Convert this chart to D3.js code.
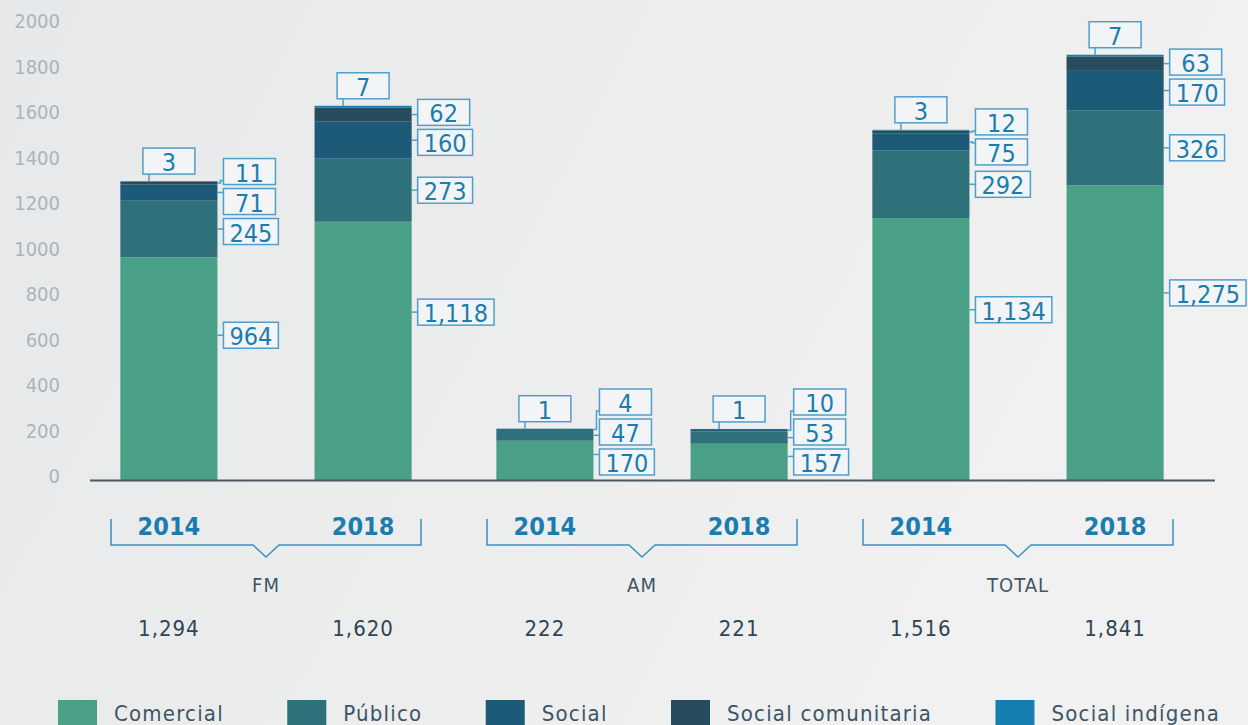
<!DOCTYPE html>
<meta charset="utf-8">
<style>
    body { margin: 0; background: #ececec; }
    svg text { font-family: "DejaVu Sans Condensed", "DejaVu Sans", sans-serif; }
    .tick-label { fill: #a9b5bc; font-size: 20px; }
    .box rect { fill: #f3f4f5; stroke: #4f9fcc; stroke-width: 1.5px; }
    .box text { fill: #1a7db0; font-size: 25px; }
    .conn { stroke: #4f9fcc; stroke-width: 1.5px; fill: none; }
    .year { fill: #1a7db0; font-size: 25px; font-weight: bold; }
    .bracket { stroke: #3a90c0; stroke-width: 1.5px; fill: none; }
    .group-label { fill: #3d5566; font-size: 20px; letter-spacing: 1px; }
    .total { fill: #2c4557; font-size: 22px; letter-spacing: 1px; }
    .legend text { fill: #3d5566; font-size: 22px; letter-spacing: 1.2px; }
</style>

<body>
    <script src="https://d3js.org/d3.v7.min.js"></script>
    <script>
        // data
        var groups = ["FM", "AM", "TOTAL"];
        var years = ["2014", "2018"];
        var series = ["Comercial", "Público", "Social", "Social comunitaria", "Social indígena"];
        var comercial   = [964, 1118, 170, 157, 1134, 1275];
        var publico     = [245, 273, 47, 53, 292, 326];
        var social      = [71, 160, 4, 10, 75, 170];
        var comunitaria = [11, 62, 1, 1, 12, 63];
        var indigena    = [3, 7, 0, 0, 3, 7];
        var yTicks = [0, 200, 400, 600, 800, 1000, 1200, 1400, 1600, 1800, 2000];
        var colors = ["#49a087", "#2e717a", "#1c5a78", "#264c5e", "#157fb0"];

        var values = [comercial, publico, social, comunitaria, indigena];
        var bars = [];
        groups.forEach(function(g, gi) {
            years.forEach(function(yr, yi) {
                var i = gi * 2 + yi;
                var acc = 0;
                var segs = values.map(function(arr, k) {
                    var s = { key: series[k], k: k, v: arr[i], y0: acc, y1: acc + arr[i] };
                    acc += arr[i];
                    return s;
                });
                bars.push({ group: g, year: yr, segs: segs, total: acc });
            });
        });

        var W = 1248, H = 725;
        var svg = d3.select("body").append("svg").attr("width", W).attr("height", H);

        var defs = svg.append("defs");
        var grad = defs.append("linearGradient").attr("id", "bg").attr("x1", 0).attr("y1", 0).attr("x2", 1).attr("y2", 0.3);
        grad.append("stop").attr("offset", 0).attr("stop-color", "#e7e8e9");
        grad.append("stop").attr("offset", 1).attr("stop-color", "#f1f1f1");
        svg.append("rect").attr("width", W).attr("height", H).attr("fill", "url(#bg)");

        var y = d3.scaleLinear().domain([0, 2000]).range([480, 18]);
        var yLab = d3.scaleLinear().domain([0, 2000]).range([476, 21]);

        var x0 = d3.scaleBand().domain(groups).range([78, 1206]);
        var x1 = d3.scaleBand().domain(years).range([0, x0.bandwidth()]).paddingInner(0.5).paddingOuter(0.218);

        // y tick labels
        svg.append("g").selectAll("text").data(yTicks).join("text")
            .attr("class", "tick-label")
            .attr("x", 60).attr("y", d => yLab(d))
            .attr("dy", "0.36em")
            .attr("text-anchor", "end")
            .text(d => d);

        var barG = svg.append("g").selectAll("g.bar").data(bars).join("g")
            .attr("class", "bar")
            .attr("transform", d => "translate(" + (x0(d.group) + x1(d.year)) + ",0)");

        barG.selectAll("rect").data(d => d.segs.filter(s => s.v > 0)).join("rect")
            .attr("x", 0).attr("width", x1.bandwidth())
            .attr("y", s => y(s.y1))
            .attr("height", s => y(s.y0) - y(s.y1))
            .attr("fill", s => colors[s.k]);

        // baseline
        svg.append("line").attr("x1", 90).attr("x2", 1215).attr("y1", 480.5).attr("y2", 480.5)
            .attr("stroke", "#4b5862").attr("stroke-width", 2);

        var fmt = d3.format(",");
        var bw = x1.bandwidth();
        var BOXH = 26, SP = 30;

        function addBox(g, cx, cy, text, anchor) {
            var b = g.append("g").attr("class", "box");
            var r = b.append("rect");
            var t = b.append("text").text(text).attr("dy", "0.36em");
            var tw = t.node().getComputedTextLength();
            var w = Math.max(52, tw + 12);
            var left = anchor === "left" ? cx : cx - w / 2;
            r.attr("x", left).attr("y", cy - BOXH / 2).attr("width", w).attr("height", BOXH);
            t.attr("x", left + w / 2).attr("y", cy + 1).attr("text-anchor", "middle");
            return left;
        }

        barG.each(function(d) {
            var g = d3.select(this);
            var nz = d.segs.filter(s => s.v > 0);
            var top = nz[nz.length - 1];
            var side = nz.slice(0, nz.length - 1);

            // top box
            var topY = y(d.total);
            var cyTop = topY - 7 - BOXH / 2;
            var leftTop = addBox(g, bw / 2, cyTop, fmt(top.v), "center");
            g.insert("line", ".box").attr("class", "conn")
                .attr("x1", leftTop + 6).attr("x2", leftTop + 6)
                .attr("y1", cyTop + BOXH / 2).attr("y2", topY);

            // side boxes: desired positions then spread apart
            var items = side.map(function(s) {
                var anchor = s.k === 0 ? Math.max(s.y1 * 0.65, (s.y0 + s.y1) / 2) : (s.y0 + s.y1) / 2;
                if (s.k === 0) anchor = Math.min(anchor, 810);
                return { s: s, want: y(anchor), anchorY: y(Math.min(anchor, s.y1)) };
            });
            // items are ordered bottom -> top; screen positions decrease
            var clusters = items.map(function(it) { return { members: [it] }; });
            function place(c) {
                var m = c.members;
                var mean = d3.mean(m, (it, j) => it.want + j * SP);
                m.forEach(function(it, j) { it.cy = mean - j * SP; });
            }
            clusters.forEach(place);
            var changed = true;
            while (changed) {
                changed = false;
                for (var i = 0; i < clusters.length - 1; i++) {
                    var a = clusters[i], b = clusters[i + 1];
                    var aTop = a.members[a.members.length - 1].cy;
                    var bBot = b.members[0].cy;
                    if (aTop - bBot < SP) {
                        a.members = a.members.concat(b.members);
                        clusters.splice(i + 1, 1);
                        place(a);
                        changed = true;
                        break;
                    }
                }
            }
            // keep bottom box above the baseline
            var shift = Math.max(0, items.length ? items[0].cy - (y(0) - 18) : 0);
            items.forEach(function(it) { it.cy -= shift; });

            items.forEach(function(it) {
                var bx = bw + 6;
                var enterY = Math.max(it.cy - BOXH / 2 + 4, Math.min(it.cy + BOXH / 2 - 4, it.anchorY));
                var pts = [[bw, it.anchorY], [bw + 3, it.anchorY], [bw + 3, enterY], [bx, enterY]];
                g.append("path").attr("class", "conn").attr("d", d3.line()(pts));
                addBox(g, bx, it.cy, fmt(it.s.v), "left");
            });
        });

        // year labels, brackets, group labels, totals
        var below = svg.append("g");
        below.selectAll("text.year").data(bars).join("text")
            .attr("class", "year")
            .attr("x", d => x0(d.group) + x1(d.year) + bw / 2)
            .attr("y", 535).attr("text-anchor", "middle")
            .text(d => d.year);

        below.selectAll("path.bracket").data(groups).join("path")
            .attr("class", "bracket")
            .attr("d", function(g) {
                var c = x0(g) + x0.bandwidth() / 2, h = 155;
                return d3.line()([[c - h, 519], [c - h, 545], [c - 13, 545], [c, 557], [c + 13, 545], [c + h, 545], [c + h, 519]]);
            });

        below.selectAll("text.group-label").data(groups).join("text")
            .attr("class", "group-label")
            .attr("x", g => x0(g) + x0.bandwidth() / 2)
            .attr("y", 592).attr("text-anchor", "middle")
            .text(g => g);

        below.selectAll("text.total").data(bars).join("text")
            .attr("class", "total")
            .attr("x", d => x0(d.group) + x1(d.year) + bw / 2)
            .attr("y", 636).attr("text-anchor", "middle")
            .text(d => fmt(d.total));

        // legend
        var leg = svg.append("g").attr("class", "legend");
        var items = leg.selectAll("g").data(series).join("g");
        items.append("rect").attr("width", 39).attr("height", 26).attr("y", 700)
            .attr("fill", (d, i) => colors[i]);
        items.append("text").attr("x", 56).attr("y", 721).text(d => d);
        var widths = [];
        items.each(function() { widths.push(d3.select(this).select("text").node().getComputedTextLength()); });
        var used = d3.sum(widths, w => 56 + w);
        var gap = (1220 - 58 - used) / (series.length - 1);
        var pos = 58;
        items.attr("transform", function(d, i) {
            var t = "translate(" + pos + ",0)";
            pos += 56 + widths[i] + gap;
            return t;
        });
    </script>
</body>

</html>
